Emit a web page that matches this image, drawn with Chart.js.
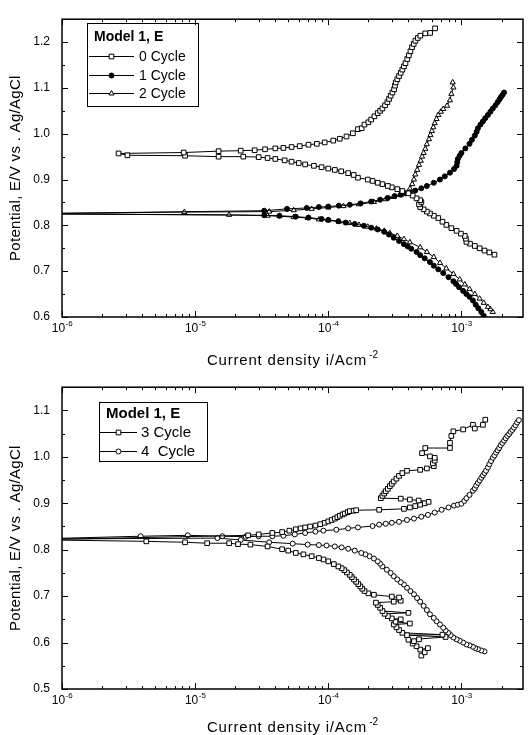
<!DOCTYPE html>
<html>
<head>
<meta charset="utf-8">
<script src="https://cdn.jsdelivr.net/npm/chart.js@4.4.1/dist/chart.umd.min.js"></script>
<style>
  html, body { margin: 0; padding: 0; background: #fff; }
  canvas { display: block; }
</style>
</head>
<body>
<canvas id="topChart" width="531" height="368"></canvas>
<canvas id="bottomChart" width="531" height="367"></canvas>
<script>
// [current density (A/cm2), potential (V vs Ag/AgCl)], scan order: cathodic end -> Ecorr -> anodic end
const cycle0 = [
  [1.77e-3,0.736],[1.62e-3,0.741],[1.49e-3,0.745],[1.37e-3,0.750],[1.26e-3,0.755],[1.16e-3,0.760],
  [1.09e-3,0.764],[1.08e-3,0.771],[1.06e-3,0.777],[9.9e-4,0.782],[9.2e-4,0.788],[8.4e-4,0.794],
  [7.7e-4,0.801],[7.2e-4,0.808],[6.7e-4,0.816],[6.2e-4,0.821],[5.8e-4,0.826],[5.5e-4,0.830],
  [5.2e-4,0.835],[4.9e-4,0.840],[4.8e-4,0.846],[5.0e-4,0.851],[4.9e-4,0.855],[4.6e-4,0.859],
  [4.3e-4,0.865],[4.0e-4,0.870],[3.6e-4,0.875],[3.3e-4,0.879],[3.0e-4,0.883],[2.8e-4,0.886],
  [2.55e-4,0.890],[2.35e-4,0.893],[2.15e-4,0.897],[1.98e-4,0.900],[1.67e-4,0.904],[1.55e-4,0.910],
  [1.41e-4,0.914],[1.25e-4,0.918],[1.12e-4,0.921],[1.0e-4,0.924],[8.9e-5,0.927],[7.8e-5,0.930],
  [6.7e-5,0.933],[6.0e-5,0.936],[5.3e-5,0.939],[4.7e-5,0.942],[4.0e-5,0.945],[3.5e-5,0.947],
  [3.0e-5,0.949],[2.3e-5,0.950],[1.5e-5,0.950],[8.4e-6,0.952],[3.1e-6,0.953],[2.66e-6,0.957],
  [8.2e-6,0.959],[1.5e-5,0.962],[2.2e-5,0.963],[2.8e-5,0.964],[3.35e-5,0.966],[4.0e-5,0.968],
  [4.6e-5,0.969],[5.3e-5,0.971],[6.1e-5,0.973],[7.1e-5,0.976],[8.2e-5,0.978],[9.4e-5,0.981],
  [1.09e-4,0.985],[1.22e-4,0.989],[1.37e-4,0.994],[1.53e-4,1.001],[1.67e-4,1.010],[1.78e-4,1.012],
  [1.87e-4,1.020],[2.0e-4,1.025],[2.1e-4,1.031],[2.22e-4,1.038],[2.35e-4,1.045],[2.45e-4,1.050],
  [2.55e-4,1.055],[2.67e-4,1.062],[2.78e-4,1.069],[2.86e-4,1.076],[2.94e-4,1.083],[3.03e-4,1.090],
  [3.12e-4,1.097],[3.17e-4,1.105],[3.21e-4,1.112],[3.3e-4,1.119],[3.4e-4,1.126],[3.5e-4,1.133],
  [3.6e-4,1.140],[3.7e-4,1.147],[3.8e-4,1.154],[3.92e-4,1.163],[4.03e-4,1.171],[4.14e-4,1.180],
  [4.26e-4,1.189],[4.38e-4,1.196],[4.51e-4,1.203],[4.7e-4,1.209],[4.91e-4,1.214],[5.35e-4,1.219],
  [5.82e-4,1.220],[6.34e-4,1.230]
];
const cycle1 = [
  [1.53e-3,0.595],[1.47e-3,0.603],[1.41e-3,0.611],[1.34e-3,0.619],[1.28e-3,0.627],[1.22e-3,0.636],
  [1.15e-3,0.644],[1.09e-3,0.650],[1.03e-3,0.657],[9.6e-4,0.665],[9.1e-4,0.672],[8.7e-4,0.678],
  [8.0e-4,0.687],[7.3e-4,0.696],[6.7e-4,0.704],[6.2e-4,0.712],[5.8e-4,0.720],[5.3e-4,0.728],
  [4.9e-4,0.735],[4.6e-4,0.742],[4.2e-4,0.749],[3.95e-4,0.754],[3.7e-4,0.759],[3.4e-4,0.766],
  [3.1e-4,0.773],[2.85e-4,0.780],[2.63e-4,0.786],[2.35e-4,0.791],[2.1e-4,0.795],[1.85e-4,0.799],
  [1.58e-4,0.803],[1.35e-4,0.806],[1.19e-4,0.809],[1.0e-4,0.812],[8.9e-5,0.814],[7.1e-5,0.817],
  [5.7e-5,0.819],[4.3e-5,0.821],[3.3e-5,0.822],[8e-7,0.825],
  [8e-7,0.826],[3.3e-5,0.832],[4.9e-5,0.836],
  [6.9e-5,0.838],[8.5e-5,0.840],[1.0e-4,0.841],[1.2e-4,0.843],[1.45e-4,0.845],[1.75e-4,0.848],
  [2.1e-4,0.852],[2.45e-4,0.856],[2.8e-4,0.860],[3.15e-4,0.864],[3.5e-4,0.867],[3.8e-4,0.870],
  [4.1e-4,0.872],[4.5e-4,0.876],[5.0e-4,0.881],[5.5e-4,0.886],[6.2e-4,0.893],[6.9e-4,0.900],
  [7.5e-4,0.907],[8.2e-4,0.915],[8.8e-4,0.923],[9.2e-4,0.930],[9.3e-4,0.938],[9.4e-4,0.945],
  [9.7e-4,0.952],[1.0e-3,0.958],[1.07e-3,0.968],[1.15e-3,0.978],[1.2e-3,0.987],[1.26e-3,0.996],
  [1.3e-3,1.004],[1.33e-3,1.012],[1.39e-3,1.020],[1.45e-3,1.027],[1.51e-3,1.034],[1.58e-3,1.041],
  [1.65e-3,1.048],[1.72e-3,1.055],[1.8e-3,1.062],[1.87e-3,1.069],[1.93e-3,1.075],[1.98e-3,1.080],
  [2.04e-3,1.085],[2.09e-3,1.090]
];
const cycle2 = [
  [1.72e-3,0.611],[1.65e-3,0.617],[1.58e-3,0.622],[1.47e-3,0.631],[1.37e-3,0.640],[1.26e-3,0.650],
  [1.15e-3,0.661],[1.06e-3,0.671],[9.7e-4,0.682],[8.7e-4,0.694],[7.7e-4,0.706],[6.9e-4,0.718],
  [6.2e-4,0.731],[5.5e-4,0.742],[4.9e-4,0.752],[4.1e-4,0.763],[3.7e-4,0.770],[3.3e-4,0.777],
  [2.9e-4,0.783],[2.63e-4,0.788],[2.3e-4,0.793],[1.98e-4,0.797],[1.7e-4,0.801],[1.45e-4,0.805],
  [1.2e-4,0.808],[1.0e-4,0.811],[8.5e-5,0.813],[7e-5,0.816],[5.5e-5,0.818],[4.3e-5,0.820],
  [3.5e-5,0.821],[1.8e-5,0.823],[8e-7,0.825],
  [8e-7,0.826],[8.3e-6,0.829],[3.6e-5,0.830],[5.5e-5,0.833],[7.5e-5,0.836],
  [1.0e-4,0.839],[1.3e-4,0.842],[1.7e-4,0.846],[2.2e-4,0.851],[2.7e-4,0.857],[3.1e-4,0.862],
  [3.5e-4,0.866],[3.9e-4,0.870],[4.1e-4,0.880],[4.27e-4,0.890],[4.4e-4,0.900],[4.5e-4,0.911],
  [4.65e-4,0.921],[4.8e-4,0.932],[4.95e-4,0.941],[5.06e-4,0.950],[5.2e-4,0.958],[5.35e-4,0.967],
  [5.5e-4,0.977],[5.7e-4,0.988],[5.85e-4,0.997],[6.0e-4,1.006],[6.15e-4,1.014],[6.3e-4,1.023],
  [6.5e-4,1.032],[6.7e-4,1.041],[7.0e-4,1.048],[7.3e-4,1.054],[7.8e-4,1.061],[8.2e-4,1.073],
  [8.4e-4,1.087],[8.7e-4,1.101],[8.6e-4,1.112]
];
const cycle3 = [
  [5.0e-4,0.572],[5.3e-4,0.579],[5.6e-4,0.588],[4.9e-4,0.585],[4.6e-4,0.592],[4.3e-4,0.598],
  [4.4e-4,0.603],[4.8e-4,0.607],[4.0e-4,0.606],[7.6e-4,0.612],[3.9e-4,0.616],[7.2e-4,0.617],
  [3.6e-4,0.621],[3.4e-4,0.627],[3.25e-4,0.633],[3.1e-4,0.639],[4.1e-4,0.641],[3.2e-4,0.645],
  [3.5e-4,0.650],[3.0e-4,0.652],[2.8e-4,0.657],[2.65e-4,0.662],[4.0e-4,0.664],[2.55e-4,0.668],
  [2.45e-4,0.675],[2.35e-4,0.681],[2.28e-4,0.686],[3.1e-4,0.688],[3.5e-4,0.690],[3.4e-4,0.697],
  [3.0e-4,0.699],[2.2e-4,0.703],[2.0e-4,0.706],[1.87e-4,0.711],[1.8e-4,0.716],[1.74e-4,0.721],
  [1.68e-4,0.726],[1.62e-4,0.731],[1.56e-4,0.736],[1.5e-4,0.741],[1.45e-4,0.746],[1.38e-4,0.751],
  [1.32e-4,0.756],[1.26e-4,0.760],[1.19e-4,0.764],[1.1e-4,0.769],[1.0e-4,0.775],[9.2e-5,0.779],
  [8.5e-5,0.782],[7.5e-5,0.786],[6.5e-5,0.790],[5.7e-5,0.793],[5.0e-5,0.798],[4.5e-5,0.801],
  [3.5e-5,0.807],[2.6e-5,0.811],[2.1e-5,0.812],[1.8e-5,0.814],[1.23e-5,0.814],[8.4e-6,0.816],
  [4.3e-6,0.818],[8e-7,0.821],
  [8e-7,0.822],[2.5e-5,0.831],[3.0e-5,0.833],[3.8e-5,0.836],
  [4.5e-5,0.838],[5.1e-5,0.841],[5.7e-5,0.844],[6.2e-5,0.846],[6.7e-5,0.848],[7.3e-5,0.850],
  [8.0e-5,0.852],[8.7e-5,0.855],[9.4e-5,0.858],[1.0e-4,0.861],[1.06e-4,0.864],[1.12e-4,0.867],
  [1.17e-4,0.870],[1.22e-4,0.873],[1.28e-4,0.876],[1.33e-4,0.878],[1.4e-4,0.881],[1.45e-4,0.883],
  [1.55e-4,0.884],[1.62e-4,0.885],[2.41e-4,0.886],[3.7e-4,0.888],[4.1e-4,0.891],[4.5e-4,0.894],
  [4.9e-4,0.897],[5.3e-4,0.900],[5.67e-4,0.903],[4.77e-4,0.906],[4.1e-4,0.908],[3.5e-4,0.910],
  [2.48e-4,0.911],[2.55e-4,0.916],[2.63e-4,0.921],[2.7e-4,0.926],[2.8e-4,0.931],[2.9e-4,0.937],
  [3.0e-4,0.942],[3.1e-4,0.947],[3.25e-4,0.953],[3.4e-4,0.959],[3.6e-4,0.965],[3.9e-4,0.970],
  [4.9e-4,0.972],[5.5e-4,0.975],[6.2e-4,0.980],[6.1e-4,0.986],[6.3e-4,0.992],[6.3e-4,0.998],
  [5.8e-4,1.001],[5.06e-4,1.008],[5.35e-4,1.019],[8.2e-4,1.019],[8.2e-4,1.030],[8.4e-4,1.045],
  [8.7e-4,1.055],[1.03e-3,1.059],[1.22e-3,1.069],[1.26e-3,1.061],[1.45e-3,1.069],[1.51e-3,1.080]
];
const cycle4 = [
  [1.49e-3,0.581],[1.41e-3,0.583],[1.33e-3,0.586],[1.27e-3,0.588],[1.22e-3,0.591],[1.15e-3,0.594],
  [1.09e-3,0.596],[1.03e-3,0.600],[9.7e-4,0.604],[9.2e-4,0.607],[8.7e-4,0.611],[8.3e-4,0.616],
  [7.96e-4,0.621],[7.6e-4,0.626],[7.3e-4,0.632],[6.9e-4,0.639],[6.5e-4,0.646],[6.2e-4,0.653],
  [5.8e-4,0.661],[5.5e-4,0.670],[5.2e-4,0.679],[4.9e-4,0.688],[4.64e-4,0.696],[4.4e-4,0.704],
  [4.14e-4,0.711],[3.9e-4,0.718],[3.7e-4,0.725],[3.5e-4,0.730],[3.3e-4,0.736],[3.1e-4,0.743],
  [2.94e-4,0.750],[2.75e-4,0.757],[2.55e-4,0.764],[2.45e-4,0.770],[2.35e-4,0.775],[2.2e-4,0.781],
  [2.04e-4,0.786],[1.9e-4,0.790],[1.77e-4,0.793],[1.58e-4,0.798],[1.41e-4,0.802],[1.26e-4,0.805],
  [1.12e-4,0.807],[9.7e-5,0.809],[8.5e-5,0.810],[7.0e-5,0.811],[5.4e-5,0.813],[3.6e-5,0.816],
  [2.2e-5,0.821],[1.47e-5,0.825],[8e-7,0.823],
  [8e-7,0.824],[3.9e-6,0.829],[8.8e-6,0.831],[1.6e-5,0.829],[2.4e-5,0.828],[3.0e-5,0.829],
  [3.8e-5,0.829],[4.6e-5,0.830],[5.6e-5,0.833],[6.7e-5,0.836],[8e-5,0.839],[9.2e-5,0.841],
  [1.15e-4,0.843],[1.41e-4,0.846],[1.67e-4,0.848],[2.15e-4,0.851],[2.41e-4,0.854],[2.7e-4,0.856],
  [3.0e-4,0.858],[3.4e-4,0.860],[3.9e-4,0.864],[4.4e-4,0.867],[5.0e-4,0.871],[5.6e-4,0.875],
  [6.3e-4,0.880],[7.1e-4,0.886],[8.0e-4,0.891],[8.8e-4,0.895],[9.4e-4,0.897],[1.0e-3,0.899],
  [1.05e-3,0.905],[1.09e-3,0.911],[1.15e-3,0.918],[1.22e-3,0.927],[1.26e-3,0.932],[1.29e-3,0.938],
  [1.33e-3,0.944],[1.37e-3,0.949],[1.41e-3,0.955],[1.45e-3,0.960],[1.49e-3,0.965],[1.53e-3,0.970],
  [1.58e-3,0.977],[1.62e-3,0.984],[1.67e-3,0.991],[1.72e-3,0.998],[1.77e-3,1.003],[1.82e-3,1.009],
  [1.87e-3,1.014],[1.92e-3,1.019],[1.97e-3,1.025],[2.03e-3,1.030],[2.09e-3,1.035],[2.15e-3,1.040],
  [2.21e-3,1.045],[2.28e-3,1.049],[2.34e-3,1.054],[2.41e-3,1.058],[2.48e-3,1.063],[2.55e-3,1.068],
  [2.62e-3,1.074],[2.70e-3,1.079]
];

const topLabels = ['0 Cycle', '1 Cycle', '2 Cycle'];
const bottomLabels = ['3 Cycle', '4  Cycle'];
const legendTitle = 'Model 1, E';
const xTickValues = [1e-6, 1e-5, 1e-4, 1e-3];
const xRange = [1e-6, 2.9e-3];
const topYRange = [0.6, 1.25];
const bottomYRange = [0.5, 1.15];
const yTitle = 'Potential, E/V vs . Ag/AgCl';
const xTitle = 'Current density i/Acm';
const xTitleSup = '-2';

const FONT = '"Liberation Sans", Arial, Helvetica, sans-serif';

function toPoints(pairs) {
    return pairs.map(p => ({ x: p[0], y: p[1] }));
}

function series(label, pairs, style, radius, fill) {
    return {
        label: label,
        data: toPoints(pairs),
        showLine: true,
        borderColor: '#000',
        borderWidth: 1,
        pointStyle: style,
        pointRadius: radius,
        pointBorderWidth: 1,
        pointBorderColor: '#000',
        pointBackgroundColor: fill
    };
}

// frame with inward ticks, decade labels, axis titles and the boxed legend
const panelDecor = {
    id: 'panelDecor',
    afterDraw(chart, args, opts) {
        const { ctx, chartArea: a, scales: { x, y } } = chart;
        ctx.save();
        ctx.strokeStyle = '#000';
        ctx.fillStyle = '#000';

        // ticks
        ctx.lineWidth = 1;
        ctx.beginPath();
        for (let k = -6; k <= -3; k++) {
            for (let m = 1; m <= 9; m++) {
                const v = m * Math.pow(10, k);
                if (v < x.min || v > x.max) continue;
                const px = Math.round(x.getPixelForValue(v)) + 0.5;
                const len = m === 1 ? 6 : 3;
                ctx.moveTo(px, a.bottom); ctx.lineTo(px, a.bottom - len);
                ctx.moveTo(px, a.top); ctx.lineTo(px, a.top + len);
            }
        }
        for (let n = Math.ceil(y.min * 20 - 1e-6); n <= Math.floor(y.max * 20 + 1e-6); n++) {
            const py = Math.round(y.getPixelForValue(n / 20)) + 0.5;
            const len = n % 2 === 0 ? 6 : 3;
            ctx.moveTo(a.left, py); ctx.lineTo(a.left + len, py);
            ctx.moveTo(a.right, py); ctx.lineTo(a.right - len, py);
        }
        ctx.stroke();

        // frame
        ctx.lineWidth = 1.5;
        ctx.strokeRect(a.left, a.top, a.right - a.left, a.bottom - a.top);

        // decade labels 10^k
        ctx.textAlign = 'left';
        ctx.textBaseline = 'alphabetic';
        xTickValues.forEach(v => {
            const px = x.getPixelForValue(v);
            const exp = String(Math.round(Math.log10(v)));
            ctx.font = '12px ' + FONT;
            const wb = ctx.measureText('10').width;
            ctx.font = '8px ' + FONT;
            const we = ctx.measureText(exp).width;
            const x0 = px - (wb + we) / 2;
            ctx.font = '12px ' + FONT;
            ctx.fillText('10', x0, a.bottom + 15);
            ctx.font = '8px ' + FONT;
            ctx.fillText(exp, x0 + wb + 0.5, a.bottom + 9);
        });

        // x title with superscript
        ctx.font = '15px ' + FONT;
        ctx.letterSpacing = '0.8px';
        const wt = ctx.measureText(xTitle).width;
        ctx.font = '10px ' + FONT;
        ctx.letterSpacing = '0px';
        const ws = ctx.measureText(xTitleSup).width;
        const cx = (a.left + a.right) / 2;
        const tx = cx - (wt + ws + 2) / 2;
        const ty = chart.height - 3;
        ctx.font = '15px ' + FONT;
        ctx.letterSpacing = '0.8px';
        ctx.fillText(xTitle, tx, ty);
        ctx.letterSpacing = '0px';
        ctx.font = '10px ' + FONT;
        ctx.fillText(xTitleSup, tx + wt + 2, ty - 7);

        // y title
        ctx.save();
        ctx.translate(opts.yTitleX, (a.top + a.bottom) / 2);
        ctx.rotate(-Math.PI / 2);
        ctx.textAlign = 'center';
        ctx.textBaseline = 'middle';
        ctx.font = '15px ' + FONT;
        ctx.letterSpacing = '0.3px';
        ctx.fillText(yTitle, 0, 0);
        ctx.restore();
        ctx.letterSpacing = '0px';

        // legend box
        const L = opts.legend;
        ctx.lineWidth = 1;
        ctx.strokeRect(L.x + 0.5, L.y + 0.5, L.w, L.h);
        ctx.textAlign = 'left';
        ctx.textBaseline = 'middle';
        ctx.font = 'bold ' + L.font + 'px ' + FONT;
        ctx.fillText(legendTitle, L.titleX, L.rows[0]);
        chart.data.datasets.forEach((ds, i) => {
            const ry = L.rows[i + 1] + 0.5;
            ctx.strokeStyle = '#000';
            ctx.lineWidth = 1;
            ctx.beginPath();
            ctx.moveTo(L.lineX0, ry);
            ctx.lineTo(L.lineX1, ry);
            ctx.stroke();
            ctx.fillStyle = ds.pointBackgroundColor;
            Chart.helpers.drawPoint(ctx, {
                pointStyle: ds.pointStyle, radius: ds.pointRadius, rotation: 0, borderWidth: 1
            }, (L.lineX0 + L.lineX1) / 2, ry);
            ctx.fillStyle = '#000';
            ctx.font = L.font + 'px ' + FONT;
            ctx.fillText(ds.label, L.textX, L.rows[i + 1] + 1);
        });
        ctx.restore();
    }
};

function makePanel(id, datasets, yRange, padTop, xHeight, legend) {
    return new Chart(document.getElementById(id), {
        type: 'scatter',
        data: { datasets: datasets },
        options: {
            responsive: false,
            animation: false,
            devicePixelRatio: 1,
            layout: { padding: { top: padTop, right: 8, left: 0, bottom: 0 } },
            plugins: {
                legend: { display: false },
                tooltip: { enabled: false },
                panelDecor: { legend: legend, yTitleX: 16 }
            },
            scales: {
                x: {
                    type: 'logarithmic',
                    min: xRange[0],
                    max: xRange[1],
                    grid: { display: false, drawTicks: false },
                    border: { display: false },
                    ticks: { display: false },
                    afterFit(s) { s.height = xHeight; }
                },
                y: {
                    type: 'linear',
                    min: yRange[0],
                    max: yRange[1],
                    grid: { display: false, drawTicks: false },
                    border: { display: false },
                    ticks: {
                        stepSize: 0.1,
                        includeBounds: false,
                        padding: 12,
                        color: '#000',
                        font: { family: FONT, size: 12 },
                        callback: v => v.toFixed(1)
                    },
                    afterFit(s) { s.width = 62; }
                }
            }
        },
        plugins: [panelDecor]
    });
}

makePanel('topChart', [
    series(topLabels[0], cycle0, 'rect', 3.3, '#fff'),
    series(topLabels[1], cycle1, 'circle', 2.5, '#000'),
    series(topLabels[2], cycle2, 'triangle', 3, '#fff')
], topYRange, 10, 51, {
    x: 87, y: 23, w: 111, h: 83, font: 14, titleX: 94,
    rows: [37, 56, 75, 93], lineX0: 89, lineX1: 134, textX: 139
});

makePanel('bottomChart', [
    series(bottomLabels[0], cycle3, 'rect', 3.3, '#fff'),
    series(bottomLabels[1], cycle4, 'circle', 2.5, '#fff')
], bottomYRange, 17, 46, {
    x: 99, y: 34, w: 108, h: 59, font: 15, titleX: 106,
    rows: [46, 64, 83], lineX0: 100, lineX1: 137, textX: 141
});
</script>
</body>
</html>
